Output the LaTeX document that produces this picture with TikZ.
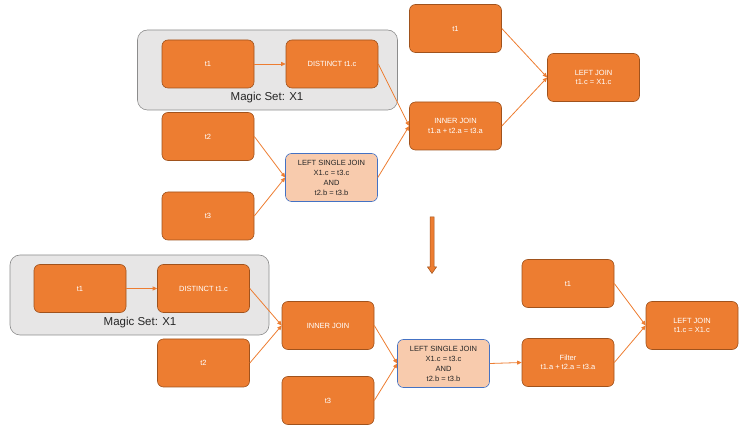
\documentclass[tikz,border=0pt]{standalone}
\usepackage{fontspec}
\setmainfont{Liberation Sans}
\usetikzlibrary{arrows.meta}
\definecolor{og}{HTML}{ED7D31}
\definecolor{ogd}{HTML}{A0521C}
\definecolor{lsjf}{HTML}{F8CBAD}
\definecolor{lsjd}{HTML}{4472C4}
\definecolor{grf}{HTML}{E7E6E6}
\definecolor{grd}{HTML}{8C8C8C}
\tikzset{
  obox/.style={draw=ogd, line width=0.6pt, fill=og, rounded corners=6pt,
    minimum width=92pt, minimum height=48pt, inner sep=0pt, text=white,
    font=\fontsize{7.5}{9.5}\selectfont, align=center},
  lbox/.style={draw=lsjd, line width=0.6pt, fill=lsjf, rounded corners=6pt,
    minimum width=92pt, minimum height=48pt, inner sep=0pt, text=black!85,
    font=\fontsize{7.5}{10}\selectfont, align=center},
  gbox/.style={draw=grd, line width=0.6pt, fill=grf, rounded corners=10pt,
    minimum width=260pt, minimum height=80pt, inner sep=0pt},
  mlabel/.style={font=\fontsize{11.5}{13}\selectfont, text=black!85, inner sep=0pt},
  conn/.style={draw=og, line width=0.8pt, -{Triangle[length=4.5pt,width=4pt]}}
}
\begin{document}
\begin{tikzpicture}[x=1pt,y=-1pt]
\useasboundingbox (0,0) rectangle (750,435);
% ---------- top ----------
\node[gbox] (tg) at (267.5,70) {};
\node[mlabel] (tml) at (267,98) {Magic Set: X1};
\node[obox] (ta1) at (208,64) {t1};
\node[obox] (tdist) at (332,64) {DISTINCT t1.c};
\node[obox] (tt2) at (208,136.5) {t2};
\node[obox] (tt3) at (208,216) {t3};
\node[lbox] (tlsj) at (331.5,177.5) {LEFT SINGLE JOIN\\X1.c = t3.c\\AND\\t2.b = t3.b};
\node[obox] (tinner) at (455.5,126) {INNER JOIN\\t1.a + t2.a = t3.a};
\node[obox] (tt1r) at (455.5,28.5) {t1};
\node[obox] (tleft) at (593.5,77.5) {LEFT JOIN\\t1.c = X1.c};
\draw[conn] (ta1.east) -- (tdist.west);
\draw[conn] (tdist.east) -- (tinner.west);
\draw[conn] (tt2.east) -- (tlsj.west);
\draw[conn] (tt3.east) -- (tlsj.west);
\draw[conn] (tlsj.east) -- (tinner.west);
\draw[conn] (tt1r.east) -- (tleft.west);
\draw[conn] (tinner.east) -- (tleft.west);
% ---------- down arrow ----------
\filldraw[fill=og, draw=ogd, line width=0.5pt]
  (430,217) -- (434,217) -- (434,267) -- (436.5,267) -- (432,273.5) -- (427.5,267) -- (430,267) -- cycle;
% ---------- bottom ----------
\node[gbox, minimum width=259pt] (bg) at (139.5,295) {};
\node[mlabel] (bml) at (140,323) {Magic Set: X1};
\node[obox] (bt1) at (80,288.5) {t1};
\node[obox] (bdist) at (203.5,288.5) {DISTINCT t1.c};
\node[obox] (binner) at (328,325.5) {INNER JOIN};
\node[obox] (bt2) at (203.5,363) {t2};
\node[obox] (bt3) at (328,400.5) {t3};
\node[lbox] (blsj) at (443.5,363.5) {LEFT SINGLE JOIN\\X1.c = t3.c\\AND\\t2.b = t3.b};
\node[obox] (bfilter) at (568,362.5) {Filter\\t1.a + t2.a = t3.a};
\node[obox] (bt1r) at (568,283.5) {t1};
\node[obox] (bleft) at (692,325.5) {LEFT JOIN\\t1.c = X1.c};
\draw[conn] (bt1.east) -- (bdist.west);
\draw[conn] (bdist.east) -- (binner.west);
\draw[conn] (bt2.east) -- (binner.west);
\draw[conn] (binner.east) -- (blsj.west);
\draw[conn] (bt3.east) -- (blsj.west);
\draw[conn] (blsj.east) -- (bfilter.west);
\draw[conn] (bt1r.east) -- (bleft.west);
\draw[conn] (bfilter.east) -- (bleft.west);
\end{tikzpicture}
\end{document}
